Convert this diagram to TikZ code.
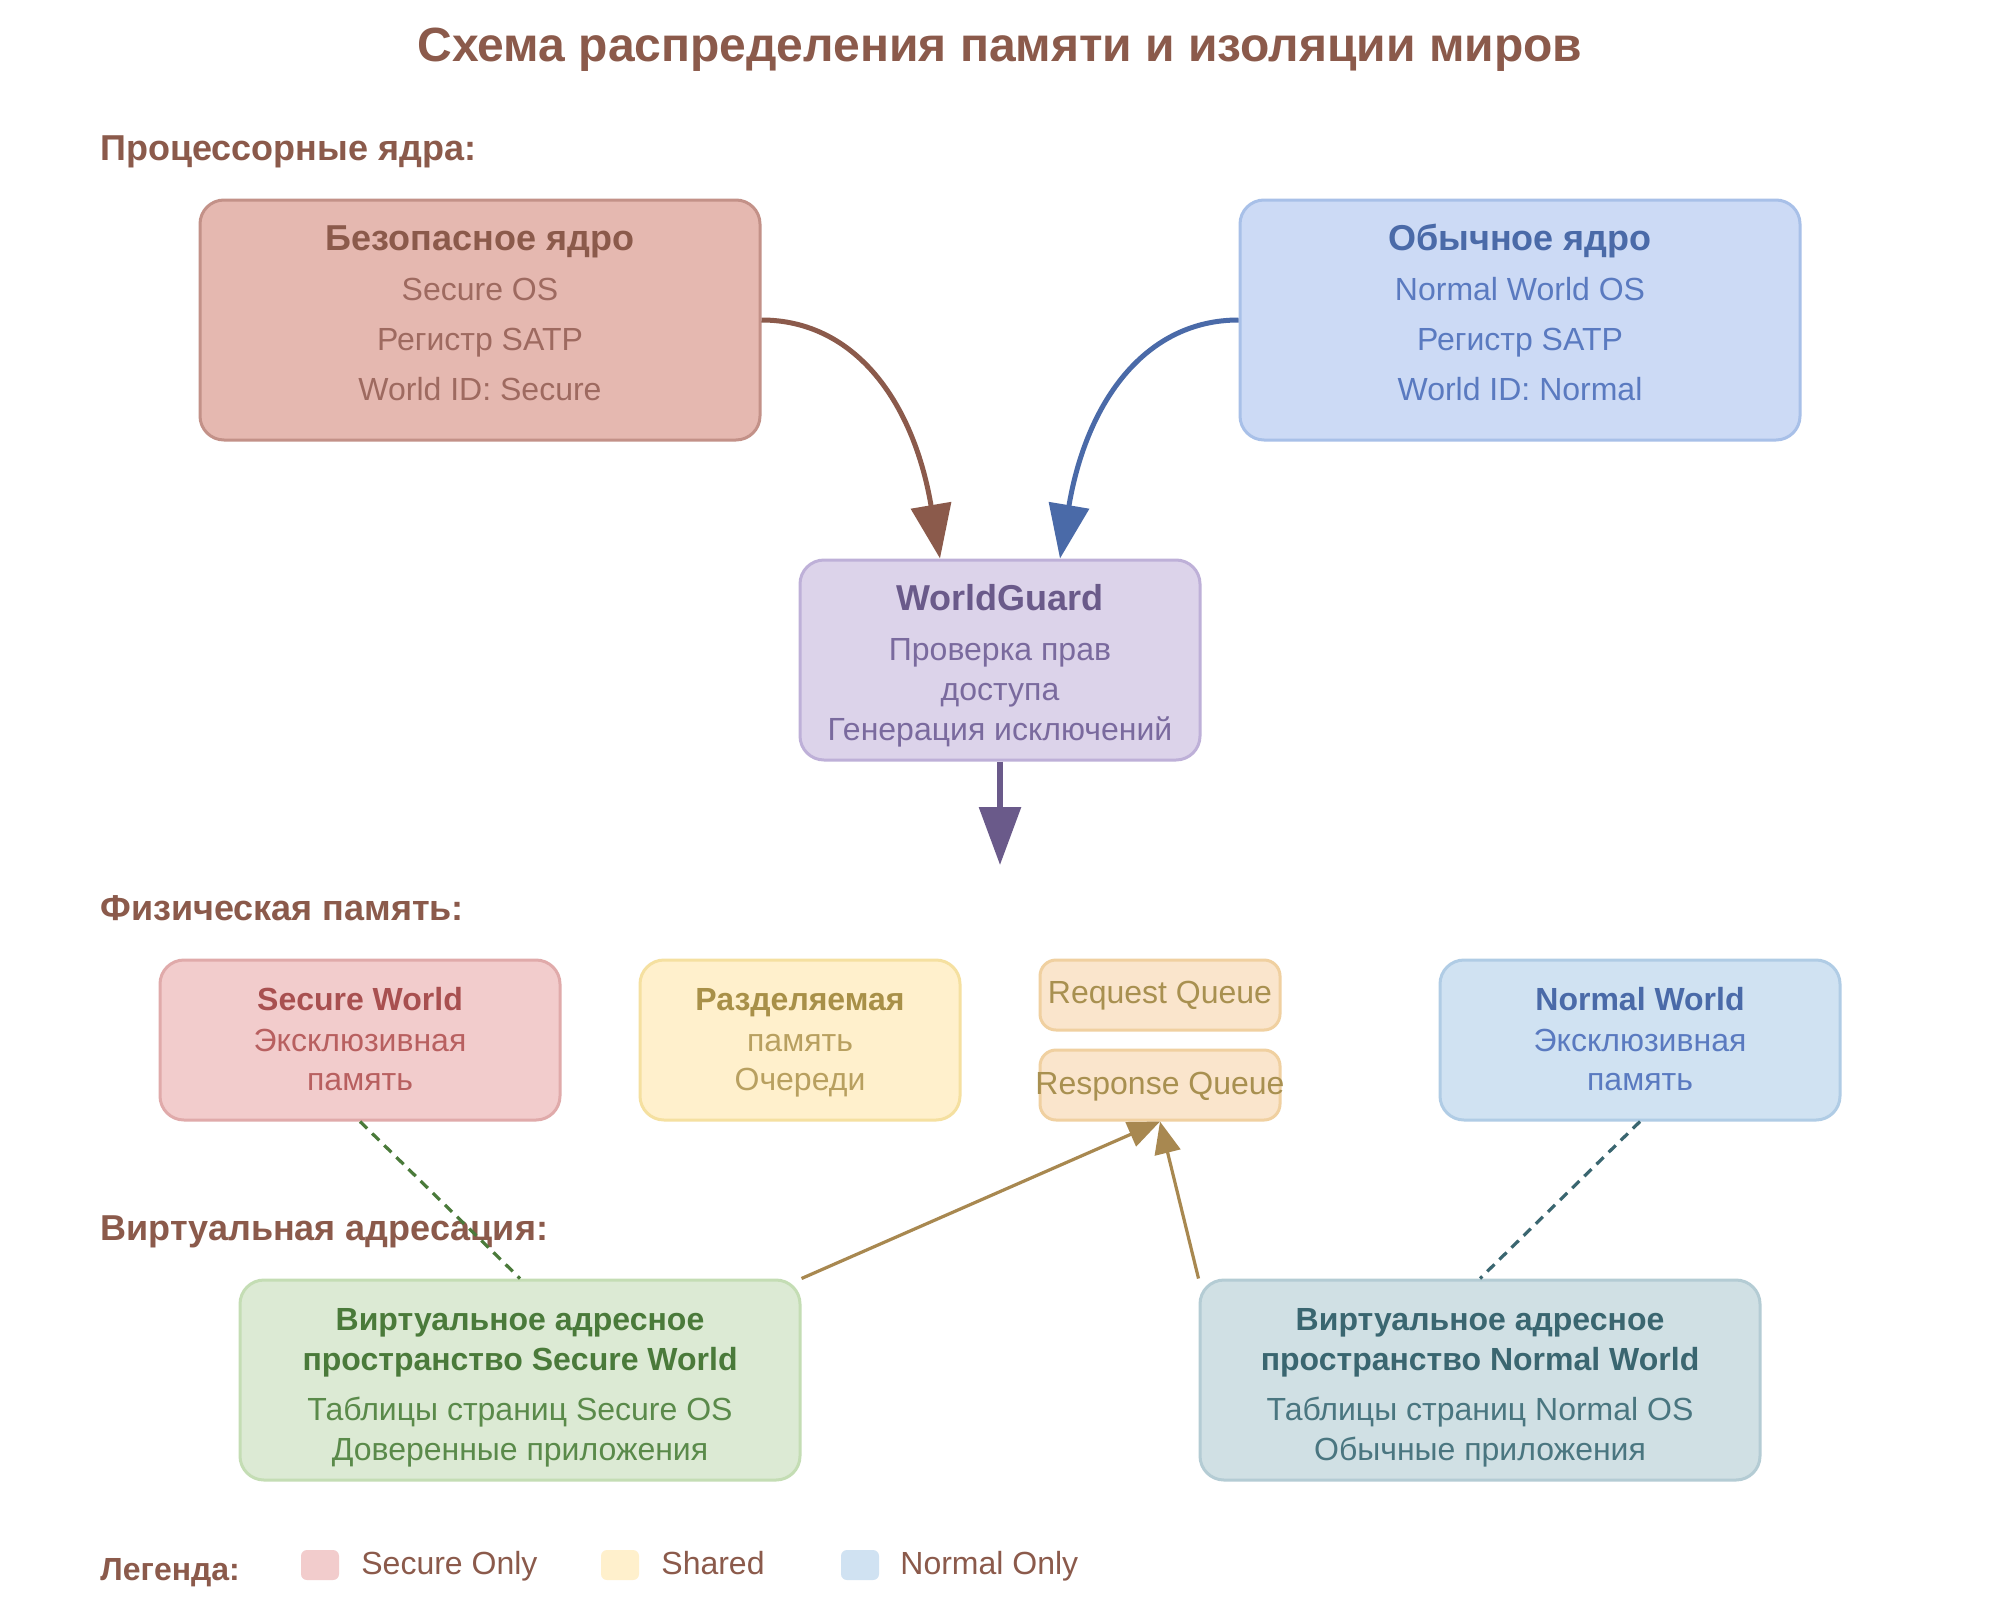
\documentclass[tikz,border=0pt]{standalone}
\usepackage{fontspec}
\setmainfont{Liberation Sans}
\usetikzlibrary{arrows.meta}
\definecolor{brownT}{HTML}{8B5A4B}
\definecolor{scFill}{HTML}{E5B8B0}\definecolor{scDraw}{HTML}{C39188}\definecolor{scText}{HTML}{9E6A60}
\definecolor{ncFill}{HTML}{CCDAF5}\definecolor{ncDraw}{HTML}{A8C0E8}\definecolor{ncTitle}{HTML}{4A6AA8}\definecolor{ncText}{HTML}{5A7AC0}
\definecolor{wgFill}{HTML}{DCD3EA}\definecolor{wgDraw}{HTML}{BEB0D8}\definecolor{wgTitle}{HTML}{6A5A8A}\definecolor{wgText}{HTML}{7A6A9E}
\definecolor{swFill}{HTML}{F2CCCC}\definecolor{swDraw}{HTML}{E0AAAA}\definecolor{swTitle}{HTML}{A85050}\definecolor{swText}{HTML}{B86060}
\definecolor{shFill}{HTML}{FFF0CC}\definecolor{shDraw}{HTML}{F5E0A0}\definecolor{shTitle}{HTML}{A89048}\definecolor{shText}{HTML}{B8A060}
\definecolor{qFill}{HTML}{FAE5CC}\definecolor{qDraw}{HTML}{F0D0A0}\definecolor{qText}{HTML}{A89050}
\definecolor{nwFill}{HTML}{D0E2F2}\definecolor{nwDraw}{HTML}{B0CCE5}
\definecolor{vsFill}{HTML}{DCEAD4}\definecolor{vsDraw}{HTML}{C4DDB4}\definecolor{vsTitle}{HTML}{4A7A3A}\definecolor{vsText}{HTML}{5A8A4A}
\definecolor{vnFill}{HTML}{D0E0E4}\definecolor{vnDraw}{HTML}{B4CCD4}\definecolor{vnTitle}{HTML}{3A6670}\definecolor{vnText}{HTML}{4A7680}
\definecolor{goldA}{HTML}{A88850}
\begin{document}
\begin{tikzpicture}[x=0.5pt,y=-0.5pt,
  box/.style={draw, line width=1.5pt, rounded corners=12pt, inner sep=0pt},
  qbox/.style={box, rounded corners=8pt, fill=qFill, draw=qDraw, minimum width=120pt, minimum height=35pt},
  ttl/.style={anchor=base, font=\bfseries\fontsize{18}{20}\selectfont},
  sttl/.style={anchor=base, font=\bfseries\fontsize{16}{18}\selectfont},
  txt/.style={anchor=base, font=\fontsize{16}{18}\selectfont},
  sect/.style={anchor=base west, font=\bfseries\fontsize{18}{20}\selectfont, text=brownT, inner sep=0pt},
  bigarrow/.style={line width=2.5pt, -{Triangle[length=27pt,width=20pt]}},
  downarrow/.style={line width=3pt, -{Triangle[length=29pt,width=20.5pt]}},
  goldarrow/.style={line width=1.6pt, draw=goldA, -{Triangle[length=16pt,width=13pt]}},
  dashline/.style={line width=1.6pt, dash pattern=on 5pt off 3.5pt},
  swatch/.style={inner sep=0pt, rounded corners=3pt, minimum width=19pt, minimum height=15pt}
]
\useasboundingbox[fill=white] (0,0) rectangle (2000,1600);

% title
\node[anchor=base, font=\bfseries\fontsize{24}{26}\selectfont, text=brownT] (title) at (1000,62) {Схема распределения памяти и изоляции миров};

% sections
\node[sect] (s1) at (100,160) {Процессорные ядра:};
\node[sect] (s2) at (100,920) {Физическая память:};
\node[sect] (s3) at (100,1240) {Виртуальная адресация:};

% cores
\node[box, fill=scFill, draw=scDraw, minimum width=280pt, minimum height=120pt] (sc) at (480,320) {};
\node[ttl, text=brownT] (sct) at (480,250) {Безопасное ядро};
\node[txt, text=scText] (sc1) at (480,300) {Secure OS};
\node[txt, text=scText] (sc2) at (480,350) {Регистр SATP};
\node[txt, text=scText] (sc3) at (480,400) {World ID: Secure};

\node[box, fill=ncFill, draw=ncDraw, minimum width=280pt, minimum height=120pt] (nc) at (1520,320) {};
\node[ttl, text=ncTitle] (nct) at (1520,250) {Обычное ядро};
\node[txt, text=ncText] (nc1) at (1520,300) {Normal World OS};
\node[txt, text=ncText] (nc2) at (1520,350) {Регистр SATP};
\node[txt, text=ncText] (nc3) at (1520,400) {World ID: Normal};

% worldguard
\node[box, fill=wgFill, draw=wgDraw, minimum width=200pt, minimum height=100pt] (wg) at (1000,660) {};
\node[ttl, text=wgTitle] (wgt) at (1000,610) {WorldGuard};
\node[txt, text=wgText] (wg1) at (1000,660) {Проверка прав};
\node[txt, text=wgText] (wg2) at (1000,700) {доступа};
\node[txt, text=wgText] (wg3) at (1000,740) {Генерация исключений};

\coordinate (memtip) at (1000,865);

% physical memory
\node[box, fill=swFill, draw=swDraw, minimum width=200pt, minimum height=80pt] (sw) at (360,1040) {};
\node[sttl, text=swTitle] (swt) at (360,1010) {Secure World};
\node[txt, text=swText] (sw1) at (360,1051) {Эксклюзивная};
\node[txt, text=swText] (sw2) at (360,1090) {память};

\node[box, fill=shFill, draw=shDraw, minimum width=160pt, minimum height=80pt] (sh) at (800,1040) {};
\node[sttl, text=shTitle] (sht) at (800,1010) {Разделяемая};
\node[txt, text=shText] (sh1) at (800,1051) {память};
\node[txt, text=shText] (sh2) at (800,1090) {Очереди};

\node[qbox] (rq) at (1160,995) {};
\node[txt, text=qText] (rqt) at (1160,1003) {Request Queue};
\node[qbox] (rs) at (1160,1085) {};
\node[txt, text=qText] (rst) at (1160,1094) {Response Queue};

\node[box, fill=nwFill, draw=nwDraw, minimum width=200pt, minimum height=80pt] (nw) at (1640,1040) {};
\node[sttl, text=ncTitle] (nwt) at (1640,1010) {Normal World};
\node[txt, text=ncText] (nw1) at (1640,1051) {Эксклюзивная};
\node[txt, text=ncText] (nw2) at (1640,1090) {память};

% virtual
\node[box, fill=vsFill, draw=vsDraw, minimum width=280pt, minimum height=100pt] (vs) at (520,1380) {};
\node[sttl, text=vsTitle] (vst1) at (520,1330) {Виртуальное адресное};
\node[sttl, text=vsTitle] (vst2) at (520,1370) {пространство Secure World};
\node[txt, text=vsText] (vs1) at (520,1420) {Таблицы страниц Secure OS};
\node[txt, text=vsText] (vs2) at (520,1460) {Доверенные приложения};

\node[box, fill=vnFill, draw=vnDraw, minimum width=280pt, minimum height=100pt] (vn) at (1480,1380) {};
\node[sttl, text=vnTitle] (vnt1) at (1480,1330) {Виртуальное адресное};
\node[sttl, text=vnTitle] (vnt2) at (1480,1370) {пространство Normal World};
\node[txt, text=vnText] (vn1) at (1480,1420) {Таблицы страниц Normal OS};
\node[txt, text=vnText] (vn2) at (1480,1460) {Обычные приложения};

% connectors
\draw[bigarrow, draw=brownT] (sc.east) .. controls (853,320) and (913,399) .. ([xshift=-30pt]wg.north);
\draw[bigarrow, draw=ncTitle] (nc.west) .. controls (1147,320) and (1087,399) .. ([xshift=30pt]wg.north);
\draw[downarrow, draw=wgTitle] (wg.south) -- (memtip);
\draw[dashline, draw=vsTitle] (sw.south) -- (vs.north);
\draw[dashline, draw=vnTitle] (nw.south) -- (vn.north);
\draw[goldarrow] (vs.north east) -- (rs.south);
\draw[goldarrow] (vn.north west) -- (rs.south);

% legend
\node[anchor=base west, inner sep=0pt, font=\bfseries\fontsize{16}{18}\selectfont, text=brownT] (lg) at (100,1580) {Легенда:};
\node[swatch, fill=swFill] (lg1) at (320,1565) {};
\node[txt, anchor=base west, inner sep=0pt, text=brownT] (lg1t) at (361,1574) {Secure Only};
\node[swatch, fill=shFill] (lg2) at (620,1565) {};
\node[txt, anchor=base west, inner sep=0pt, text=brownT] (lg2t) at (661,1574) {Shared};
\node[swatch, fill=nwFill] (lg3) at (860,1565) {};
\node[txt, anchor=base west, inner sep=0pt, text=brownT] (lg3t) at (900,1574) {Normal Only};
\end{tikzpicture}
\end{document}
